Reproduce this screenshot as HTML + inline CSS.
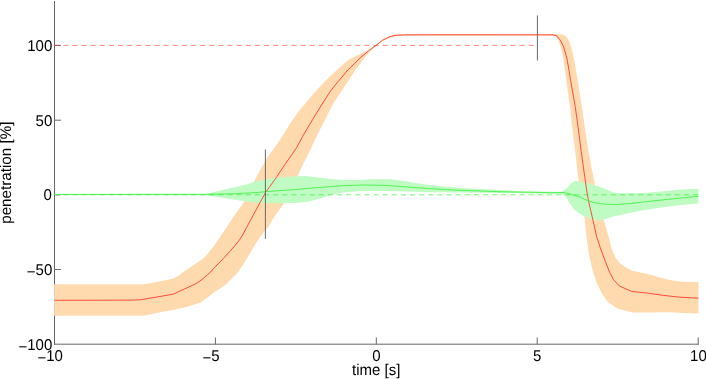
<!DOCTYPE html>
<html><head><meta charset="utf-8"><title>penetration vs time</title>
<style>
html,body{margin:0;padding:0;background:#fff;}
body{width:706px;height:379px;overflow:hidden;}
svg{display:block;}
text{mix-blend-mode:multiply;text-rendering:geometricPrecision;}
text{font-family:"Liberation Sans",sans-serif;font-size:15px;fill:#000;}
</style></head><body>
<svg width="706" height="379" viewBox="0 0 706 379">
<rect width="706" height="379" fill="#fff"/>
<!-- axes -->
<g stroke="#686868" stroke-width="1" fill="none">
<line x1="54.5" y1="1" x2="54.5" y2="344.7"/>
<line x1="54" y1="344.2" x2="698.7" y2="344.2"/>
<line x1="54.5" y1="45.4" x2="61" y2="45.4"/>
<line x1="54.5" y1="120.2" x2="61" y2="120.2"/>
<line x1="54.5" y1="194.8" x2="61" y2="194.8"/>
<line x1="54.5" y1="269.5" x2="61" y2="269.5"/>
<line x1="215.4" y1="344.5" x2="215.4" y2="337.5"/>
<line x1="376.3" y1="344.5" x2="376.3" y2="337.5"/>
<line x1="537.2" y1="344.5" x2="537.2" y2="337.5"/>
<line x1="698.2" y1="344.5" x2="698.2" y2="337.5"/>
</g>
<!-- bands -->
<polygon fill="#FFDAAE" points="54.1,284.3 143.9,284.3 150,283.2 162.7,280.8 172.8,278.7 179.1,275.4 185.4,270.6 193,265.5 200.6,260.6 205.7,256.2 210.8,249.8 214.6,245 218,240.1 227.7,225.4 235.3,214.1 244.1,202 254,181.8 260.3,169.8 267.9,156.5 275.5,146.5 281,137.9 289.8,124 298.7,111.3 305.3,103.5 315.4,91.5 325.5,80.8 335.6,71.3 348.2,60.1 358.4,54.7 365.9,51.5 372.3,47.7 377.3,43.9 382.5,39.5 390,36 395.1,34.6 404,34.1 453,34 555.3,34.1 562.9,34.5 566.7,37.1 569.9,42.8 572.4,51.6 574.3,60.5 578,82.8 581.8,107 584.9,127.8 588.4,151.5 591.8,169 594.9,184.8 603.7,219.7 608.5,236.5 611.7,248.9 615.5,257.8 619.3,262.8 625.6,267.3 632,270.7 639.5,272.2 643.4,273 653.4,275.5 666,279.3 678.8,281.5 688.9,282.1 698.4,282.1 698.4,313.5 683.8,312.9 668.6,312.3 645.8,312.4 633.1,312.5 617.9,308.7 608.4,302.4 602.7,294.8 596.8,283.2 592.6,270.5 588.9,254 586.4,236.5 584.4,216 578.5,180.4 575.2,151.5 572.2,127.8 570,106.5 566.6,82.8 564.6,68 562.9,56.7 561,47.8 558.5,40.9 555.3,35.8 552.8,35.6 453,35.6 404,35.6 395.1,36.2 390,37.5 382.5,41 377.3,45.2 372.3,49.2 365.9,55.9 358.4,66.2 355,70.5 350.3,78 347.5,82 339.4,94 332.3,105.2 326,118 323.5,122.7 315.2,139.2 308.8,153 303.4,163.5 297.7,176.1 284,203.3 274.5,216.6 268.2,226.7 260.4,236.6 255.3,244.2 250.9,251.8 246.1,260 242,266.2 238.1,272 235.2,275.2 231.4,279 226.4,284 221.3,287.8 215,291.6 209.6,296 200.9,302.4 187,306.8 173,310 159.1,312.5 143.9,315.7 54.1,315.8"/>
<polygon fill="#BFFBC3" points="54.5,194 205.4,193.9 220.6,190.6 233.3,187.5 246,184.7 254,181.8 273,178 292,176.4 305,176.1 320.3,177.7 333,179.2 345.6,179.9 358.3,179.9 371,179.2 390.1,179.2 405.3,181.2 418,183.4 430.6,185 443.3,186.5 456,187.5 467.3,188.2 490.3,189.6 515.6,190.9 552.3,191.8 562,191.8 566.5,188.6 571.5,182.9 575.3,180.8 580.4,181.4 588,183.5 595.6,185.4 604.4,188.6 613.3,192.4 620.9,193.2 643.3,193.1 656,192.1 668.6,190.8 681.3,189.6 698.4,188.7 698.4,203.5 681.3,205.1 668.6,206.6 656,208.2 643.3,210.2 630.7,212.7 618,215.5 612,216.8 605.6,219.1 598,220.4 593,219.7 586.6,217.2 580.3,214 574,209.6 570.2,203.9 566.4,197.6 562,193.9 552.3,193.8 467.3,192.5 430.6,192.2 405.3,191.6 382.3,190.9 358.3,191.3 345.6,192.2 333,194.4 320.3,198.5 307.7,201.7 295,203 278.3,203.3 259.3,203 246,201.4 233.3,199.5 220.6,197.6 205.4,195.2 54.5,195"/>
<!-- reference dashed lines -->
<line x1="54.2" y1="45.4" x2="537" y2="45.4" stroke="#FF2A2A" stroke-width="0.6" stroke-dasharray="5 4.125"/>
<line x1="54.2" y1="194.8" x2="698.4" y2="194.8" stroke="#1CF01C" stroke-width="0.6" stroke-dasharray="5 4.125"/>
<!-- mean curves -->
<polyline fill="none" stroke="#FF3B2E" stroke-width="0.9" stroke-linejoin="round" points="54.5,300.3 130,300.1 140.1,299.8 155.3,297.3 173,294.2 187,287.8 196,283.7 202.3,279.3 207.4,274.8 210.6,272 214.9,267.2 223.6,258.3 230,251.2 235.1,245.5 239.5,239.8 242,236 245.3,230 250.4,220.4 259.3,203.9 265.5,192.5 275.5,178.6 285.6,163.5 293,153 297,147 302.5,136.6 312.6,119.6 321.5,105 330.6,90.9 338.2,81.4 341.3,78 347.7,70 350.8,67.3 360.9,57.2 368.5,50.9 376.1,45.3 382.5,40.3 390,36.7 395.1,35.4 404,34.9 453.3,34.8 552.8,34.9 556.6,35.8 560.4,40.3 563.5,46.6 566.1,55.4 567.2,60 568.6,68 571,82.8 575.2,106.5 578.2,127.8 581.2,151.5 584.2,172.8 586.6,190 588.5,200.8 593,220.4 596.6,236.5 600.3,247.7 605.4,261.6 609.7,272.5 613.5,279.6 619.2,285.9 631.8,291.5 645.8,292.9 663.6,295.4 678.8,297.1 698.4,298.2"/>
<polyline fill="none" stroke="#2CF02C" stroke-width="0.75" stroke-linejoin="round" points="54.5,194.4 205,194.3 233.3,193.8 257.3,192.5 265.4,191.7 292,189.8 320.3,187.4 345.6,185.5 364.6,185 382.3,185.3 392.7,185.9 405.3,186.8 418,187.8 430.6,188.7 443.3,189.4 456,190.1 467.3,190.6 503,191.8 552.3,192.7 563.9,192.5 571.5,194.4 580.3,197.3 587.9,200.8 595.5,203 605.6,204.2 615.8,204.5 630.7,203.5 643.3,202 656,200.6 668.6,199.3 681.3,198 698.4,196.3"/>
<!-- event markers -->
<line x1="265.4" y1="149.5" x2="265.4" y2="238.8" stroke="#6A6A6A" stroke-width="1"/>
<line x1="537.4" y1="15.5" x2="537.4" y2="60.5" stroke="#6A6A6A" stroke-width="1"/>
<!-- y tick labels -->
<g text-anchor="end">
<text transform="translate(52.3,50.8) scale(1,1.04)">100</text>
<text transform="translate(52.3,125.6) scale(1,1.04)">50</text>
<text transform="translate(51.8,199.9) scale(1,1.04)">0</text>
<text transform="translate(52.3,274.9) scale(1,1.04)"><tspan dy="1.9">−</tspan><tspan dy="-1.9">50</tspan></text>
<text transform="translate(52.3,349.7) scale(1,1.04)"><tspan dy="1.9">−</tspan><tspan dy="-1.9">100</tspan></text>
</g>
<!-- x tick labels -->
<g text-anchor="middle">
<text transform="translate(50.1,360.7) scale(1,1.04)"><tspan dy="1.9">−</tspan><tspan dy="-1.9">10</tspan></text>
<text transform="translate(211,360.7) scale(1,1.04)"><tspan dy="1.9">−</tspan><tspan dy="-1.9">5</tspan></text>
<text transform="translate(376.3,360.7) scale(1,1.04)">0</text>
<text transform="translate(537.2,360.7) scale(1,1.04)">5</text>
<text transform="translate(698.4,360.7) scale(1,1.04)">10</text>
<text transform="translate(376.2,374.7) scale(1,1.04)">time [s]</text>
</g>
<text text-anchor="middle" style="font-size:15.2px" transform="translate(10.7,172.7) rotate(-90) scale(1,1.02)">penetration [%]</text>
</svg>
</body></html>
